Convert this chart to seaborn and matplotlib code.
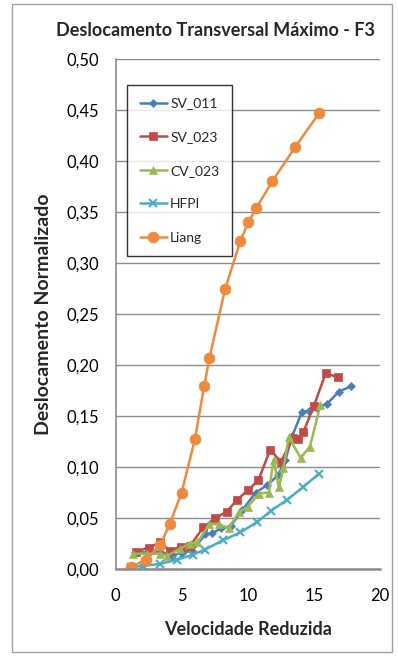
import matplotlib
matplotlib.use("Agg")
import matplotlib.pyplot as plt
import matplotlib.ticker as mticker
from matplotlib.patches import Rectangle
import seaborn as sns
import pandas as pd

sns.set_theme(style="white")
plt.rcParams['font.family'] = ['Lato', 'DejaVu Sans']

# ---- data ----
sv011_x = [1.5, 2.5, 3.4, 4.25, 5.0, 5.8, 6.8, 7.3, 8.0, 8.7, 9.6, 10.6, 11.45, 12.3, 12.85, 13.35, 14.1, 14.6, 15.2, 16.0, 16.9, 17.8]
sv011_y = [0.017, 0.016, 0.017, 0.013, 0.016, 0.018, 0.034, 0.035, 0.040, 0.042, 0.058, 0.075, 0.082, 0.092, 0.107, 0.130, 0.154, 0.155, 0.158, 0.162, 0.174, 0.179]

sv023_x = [1.55, 2.5, 3.4, 4.1, 4.95, 5.65, 6.65, 7.55, 8.4, 9.2, 10.0, 10.8, 11.7, 12.5, 13.4, 13.8, 14.2, 15.0, 15.9, 16.8]
sv023_y = [0.017, 0.021, 0.026, 0.018, 0.022, 0.023, 0.041, 0.050, 0.056, 0.068, 0.077, 0.087, 0.117, 0.105, 0.128, 0.127, 0.134, 0.160, 0.192, 0.188]

cv023_x = [1.35, 2.4, 3.4, 3.9, 4.9, 5.6, 6.2, 7.1, 7.8, 8.55, 9.35, 10.0, 10.85, 11.6, 11.95, 12.35, 12.7, 13.1, 14.0, 14.7, 15.5]
cv023_y = [0.015, 0.015, 0.015, 0.013, 0.020, 0.025, 0.026, 0.044, 0.044, 0.040, 0.056, 0.061, 0.074, 0.075, 0.107, 0.080, 0.099, 0.129, 0.109, 0.120, 0.161]

hfpi_x = [1.2, 2.1, 3.35, 4.65, 5.85, 6.75, 8.1, 9.45, 10.7, 11.75, 13.0, 14.15, 15.35]
hfpi_y = [0.002, 0.003, 0.005, 0.009, 0.014, 0.019, 0.028, 0.036, 0.046, 0.057, 0.068, 0.080, 0.093]

liang_x = [1.15, 2.3, 3.4, 4.1, 5.0, 6.0, 6.7, 7.1, 8.3, 9.45, 10.05, 10.65, 11.85, 13.6, 15.4]
liang_y = [0.002, 0.009, 0.024, 0.044, 0.075, 0.127, 0.179, 0.207, 0.275, 0.322, 0.340, 0.354, 0.380, 0.414, 0.447]

series_names = ["SV_011", "SV_023", "CV_023", "HFPI", "Liang"]
xticks = [0, 5, 10, 15, 20]
yticks = [0.00, 0.05, 0.10, 0.15, 0.20, 0.25, 0.30, 0.35, 0.40, 0.45, 0.50]

title = "Deslocamento Transversal Máximo - F3"
xlabel = "Velocidade Reduzida"
ylabel = "Deslocamento Normalizado"

data = {
    "SV_011": (sv011_x, sv011_y),
    "SV_023": (sv023_x, sv023_y),
    "CV_023": (cv023_x, cv023_y),
    "HFPI": (hfpi_x, hfpi_y),
    "Liang": (liang_x, liang_y),
}

styles = {
    "SV_011": dict(color="#4A7EBB", marker="D", ms=4.2),
    "SV_023": dict(color="#BE4B48", marker="s", ms=6.2),
    "CV_023": dict(color="#98B954", marker="^", ms=6.2),
    "HFPI": dict(color="#4BACC6", marker="x", ms=6.0),
    "Liang": dict(color="#EE8A3E", marker="o", ms=7.8),
}

W, H = 398, 659
fig = plt.figure(figsize=(W / 100, H / 100), dpi=100)
ax = fig.add_axes([115.5 / W, 1 - 569 / H, (380 - 115.5) / W, (569 - 59) / H])

handles = []
for name in series_names:
    xs, ys = data[name]
    df = pd.DataFrame({"x": xs, "y": ys})
    st = styles[name]
    sns.lineplot(data=df, x="x", y="y", ax=ax, sort=False, color=st["color"],
                 marker=st["marker"], markersize=st["ms"], linewidth=1.8,
                 markeredgecolor=st["color"], markeredgewidth=1.5 if st["marker"] == "x" else 0.5,
                 label=name)
    handles.append(ax.lines[-1])

ax.set_xlim(0, 20)
ax.set_ylim(0, 0.5)
ax.set_xticks(xticks)
ax.set_yticks(yticks)
ax.yaxis.set_major_formatter(mticker.FuncFormatter(lambda v, p: f"{v:.2f}".replace(".", ",")))
ax.xaxis.set_major_formatter(mticker.FuncFormatter(lambda v, p: f"{int(round(v))}"))
ax.tick_params(axis="both", labelsize=12, colors="black", length=0)
ax.tick_params(axis="x", pad=14)
ax.tick_params(axis="y", pad=12)
ax.yaxis.grid(True, color="#8C8C8C", linewidth=1.0)
ax.xaxis.grid(False)
ax.set_axisbelow(True)
for s in ["top", "right"]:
    ax.spines[s].set_visible(False)
ax.spines["left"].set_color("#8C8C8C")
ax.spines["bottom"].set_color("#8C8C8C")
ax.spines["left"].set_linewidth(1.2)
ax.spines["bottom"].set_linewidth(1.8)

ax.set_xlabel(xlabel, fontsize=13, fontweight="bold", labelpad=12)
ax.set_ylabel(ylabel, fontsize=14, fontweight="bold", labelpad=10)
fig.text(216 / W, 1 - 30 / H, title, ha="center", va="center", fontsize=13, fontweight="bold")

leg = ax.legend(handles=handles, labels=series_names, loc="upper left",
                bbox_to_anchor=(0.0435, 0.949), borderaxespad=0, fontsize=10,
                labelspacing=1.55, handlelength=2.0, handletextpad=0.2,
                borderpad=0.9, frameon=True, fancybox=False)
leg.get_frame().set_edgecolor("black")
leg.get_frame().set_linewidth(1.0)

fig.patches.append(Rectangle((12 / W, 1 - 652 / H), (392 - 12) / W, (652 - 4) / H,
                             transform=fig.transFigure, fill=False,
                             edgecolor="#A0A0A0", linewidth=1.0))

fig.savefig("out.png", dpi=100)
